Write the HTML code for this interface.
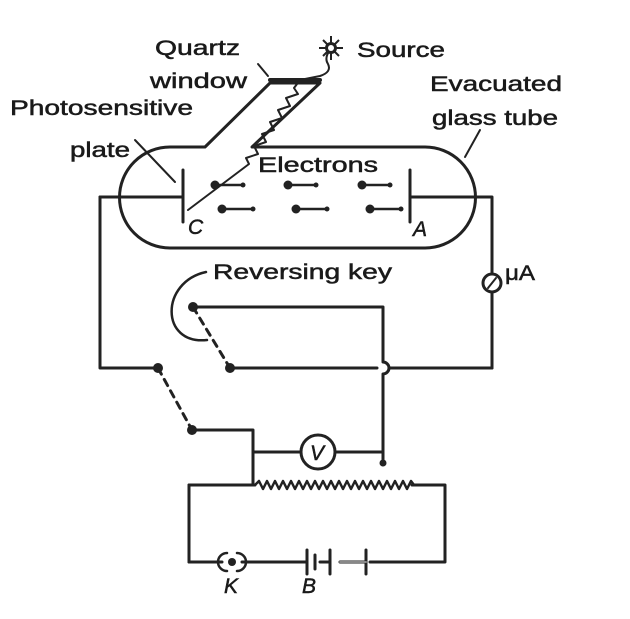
<!DOCTYPE html>
<html><head><meta charset="utf-8"><style>
html,body{margin:0;padding:0;background:#fff}
svg{display:block}
text{font-family:"Liberation Sans",sans-serif;font-size:21px;fill:#1a1a1a;stroke:#1a1a1a;stroke-width:0.5}
</style></head><body>
<svg width="630" height="619" viewBox="0 0 630 619" xmlns="http://www.w3.org/2000/svg">
<g fill="none" stroke="#222" stroke-width="3" stroke-linejoin="round" stroke-linecap="round">
<path d="M205,147 L170,147 A50,50 0 0 0 170,248 L425,248 A50,50 0 0 0 425,147 L252,147 L320,83 L270,83 Z"/>
<path d="M270,80 L320,80" stroke-width="4"/>
<path d="M330,50 q-6,8 -2,14 q4,8 -8,12 L300,80 l-6,8 l4,6 l-12,4 l4,8 l-12,4 l4,8 l-12,4 l4,8 l-12,4 l4,8 l-12,4 l4,8 l-12,4 l3,6 L188,210" stroke-width="2"/>
<path d="M258,64 L268,76" stroke-width="2"/>
<path d="M135,140 L175,182" stroke-width="2"/>
<path d="M480,130 L465,157" stroke-width="2"/>
<path d="M183,170 L183,222"/>
<path d="M410,170 L410,222"/>
<path d="M100,197 L183,197 M410,197 L492,197 L492,274 M492,292 L492,368"/>
<g stroke-width="2.5">
<path d="M215,185 h27 M288,185 h27 M362,185 h27 M222,209 h30 M296,209 h30 M370,209 h30"/>
</g>
<circle cx="492" cy="283" r="9"/>
<path d="M488,288 L496,278" stroke-width="2"/>
<path d="M100,197 L100,368 L158,368"/>
<path d="M158,368 L192,430" stroke-dasharray="7,6"/>
<path d="M193,307 L230,368" stroke-dasharray="7,6"/>
<path d="M192,430 L253,430 L253,485"/>
<path d="M193,307 L383,307 L383,362 A6,6 0 0 1 383,374 L383,463"/>
<path d="M230,368 L377,368 M389,368 L492,368"/>
<path d="M206,272 C160,282 160,345 207,340" stroke-width="2.5"/>
<path d="M253,452 L301,452 M335,452 L383,452"/>
<circle cx="318" cy="452" r="17"/>
<path d="M189,485 L255,485 M412,485 L445,485 L445,562 L370,562 M366,562 L340,562 M330,562 L320,562 M307,562 L242,562 M222,562 L189,562 Z"/>
<path d="M189,485 L189,562"/>
<path d="M255,485 l4,-4 l4,8 l4,-8 l4,8 l4,-8 l4,8 l4,-8 l4,8 l4,-8 l4,8 l4,-8 l4,8 l4,-8 l4,8 l4,-8 l4,8 l4,-8 l4,8 l4,-8 l4,8 l4,-8 l4,8 l4,-8 l4,8 l4,-8 l4,8 l4,-8 l4,8 l4,-8 l4,8 l4,-8 l4,8 l4,-8 l4,8 l4,-8 l4,8 l4,-8 l4,8 l4,-8 l3,4 L412,485" stroke-width="2.5"/>
<path d="M307,550 L307,574 M315,555 L315,569 M330,550 L330,574 M366,550 L366,574"/>
<path d="M320,562 L330,562" stroke-width="2"/>
<path d="M340,562 L366,562" stroke="#888" stroke-width="2"/>
<path d="M227,553 A9,9 0 0 0 227,571 M237,553 A9,9 0 0 1 237,571" stroke-width="2.5"/>
</g>
<g fill="#222">
<circle cx="215" cy="185" r="4.5"/><circle cx="288" cy="185" r="4.5"/><circle cx="362" cy="185" r="4.5"/>
<circle cx="222" cy="209" r="4.5"/><circle cx="296" cy="209" r="4.5"/><circle cx="370" cy="209" r="4.5"/>
<circle cx="243" cy="185" r="2.5"/><circle cx="316" cy="185" r="2.5"/><circle cx="390" cy="185" r="2.5"/>
<circle cx="253" cy="209" r="2.5"/><circle cx="327" cy="209" r="2.5"/><circle cx="401" cy="209" r="2.5"/>
<circle cx="158" cy="368" r="5"/><circle cx="192" cy="430" r="5"/><circle cx="193" cy="307" r="5"/><circle cx="230" cy="368" r="5"/>
<circle cx="383" cy="463" r="3.5"/><circle cx="232" cy="562" r="4"/>
<circle cx="331" cy="48" r="6"/>
</g>
<g stroke="#222" stroke-width="2">
<path d="M331,36 V60 M319,48 H343 M323,40 L339,56 M339,40 L323,56"/>
</g>
<circle cx="331" cy="48" r="3" fill="#fff"/>
<text x="155" y="55" textLength="85" lengthAdjust="spacingAndGlyphs">Quartz</text>
<text x="150" y="88" textLength="97" lengthAdjust="spacingAndGlyphs">window</text>
<text x="357" y="57" textLength="88" lengthAdjust="spacingAndGlyphs">Source</text>
<text x="430" y="91" textLength="132" lengthAdjust="spacingAndGlyphs">Evacuated</text>
<text x="432" y="125" textLength="126" lengthAdjust="spacingAndGlyphs">glass tube</text>
<text x="10" y="115" textLength="183" lengthAdjust="spacingAndGlyphs">Photosensitive</text>
<text x="70" y="157" textLength="60" lengthAdjust="spacingAndGlyphs">plate</text>
<text x="258" y="172" textLength="120" lengthAdjust="spacingAndGlyphs">Electrons</text>
<text x="213" y="279" textLength="179" lengthAdjust="spacingAndGlyphs">Reversing key</text>
<text x="505" y="280" textLength="30" lengthAdjust="spacingAndGlyphs">μA</text>
<text x="188" y="234" font-style="italic">C</text>
<text x="413" y="236" font-style="italic">A</text>
<text x="310" y="460" font-style="italic">V</text>
<text x="224" y="593" font-style="italic">K</text>
<text x="302" y="593" font-style="italic">B</text>
</svg>
</body></html>
